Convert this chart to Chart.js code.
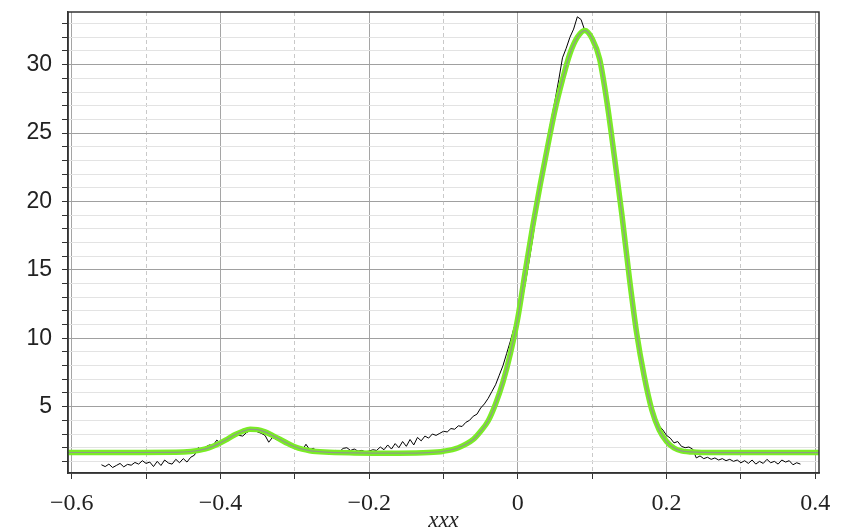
<!DOCTYPE html>
<html lang="en">
<head>
    <meta charset="UTF-8">
    <title>Fit</title>
    <script src="https://cdn.jsdelivr.net/npm/chart.js"></script>
    <style>
        body { margin: 0; background: #fff; }
        .chart-container { position: relative; width: 844px; height: 532px; }
    </style>
</head>
<body>
    <div class="chart-container">
        <canvas id="fitChart"></canvas>
    </div>

    <script>
        // measured trace: first x and sampling step, then the y readings
        const traceStart = -0.56;
        const traceStep = 0.005;
        const traceY = [
            0.75, 0.62, 0.80, 0.55, 0.70, 0.85, 0.60, 0.78, 0.72, 0.92,
            0.80, 1.05, 0.85, 0.95, 0.62, 1.00, 0.70, 1.10, 0.88, 0.80,
            1.15, 0.90, 1.20, 0.95, 1.30, 1.45,
            2.0, 1.85, 2.05, 2.2, 2.15, 2.55, 2.35, 2.45, 2.6, 2.75,
            3.05, 2.9, 2.85, 3.1, 3.25, 3.3, 3.15, 3.05, 2.9, 2.4,
            2.75, 2.6, 2.5, 2.35, 2.2, 2.05, 1.95, 1.9, 1.8, 2.25,
            1.85, 1.95, 1.75, 1.8, 1.7, 1.75, 1.7, 1.8, 1.7, 1.95,
            2.0, 1.8, 1.9, 1.75, 1.8, 1.7, 1.75, 1.85, 1.8, 2.05,
            1.85, 2.2, 1.9, 2.3, 2.0, 2.45, 2.1, 2.6, 2.2, 2.75,
            2.5, 2.85, 2.7, 3.0, 2.9, 3.05, 3.2, 3.15, 3.4, 3.35,
            3.6, 3.55, 3.85, 4.0, 4.3, 4.45, 4.9, 5.2, 5.6, 6.1,
            6.6, 7.3, 8.0, 8.9, 9.8, 10.8,
            11.3, 12.6, 14.0, 15.6, 17.3, 19.2, 21.0, 23.0, 24.6, 26.0,
            27.4, 28.9, 30.5, 31.2, 32.0, 32.6, 33.5, 33.3, 32.5, 32.2,
            31.8, 31.1, 30.3, 28.9, 27.0, 25.1, 23.1, 21.0, 19.0, 16.6,
            14.3, 12.2, 10.3, 8.7, 7.4, 6.0, 4.9, 4.3, 3.6, 3.3,
            2.9, 2.7, 2.35, 2.45, 2.1, 2.0, 2.05, 1.9, 1.25, 1.4,
            1.2, 1.3, 1.15, 1.25, 1.1, 1.2, 1.05, 1.15, 1.0, 1.1,
            0.9, 1.05, 0.85, 1.1, 0.8, 1.0, 0.85, 1.15, 0.9, 1.0,
            0.8, 1.1, 0.95, 1.05, 0.75, 0.9, 0.8
        ];

        // fitted curve
        const fitX = [
            -0.605, -0.52, -0.46, -0.44, -0.42, -0.41, -0.40, -0.39, -0.38, -0.37,
            -0.36, -0.35, -0.34, -0.33, -0.32, -0.31, -0.30, -0.29, -0.28, -0.26,
            -0.22, -0.16, -0.12, -0.10, -0.08, -0.06, -0.05, -0.04, -0.03, -0.02,
            -0.01, 0, 0.01, 0.02, 0.03, 0.04, 0.05, 0.06, 0.07, 0.08,
            0.09, 0.10, 0.11, 0.12, 0.13, 0.14, 0.15, 0.16, 0.17, 0.18,
            0.19, 0.20, 0.21, 0.22, 0.24, 0.28, 0.405
        ];
        const fitY = [
            1.65, 1.65, 1.66, 1.72, 1.91, 2.10, 2.35, 2.65, 2.96, 3.20,
            3.34, 3.32, 3.16, 2.90, 2.62, 2.32, 2.07, 1.89, 1.78, 1.68,
            1.62, 1.60, 1.64, 1.74, 2.0, 2.6, 3.2, 3.95, 5.2, 6.8,
            8.9, 11.5, 14.9, 18.2, 21.2, 24.0, 26.7, 28.9, 30.8, 32.0,
            32.5, 31.9, 30.4, 27.2, 23.2, 19.0, 14.4, 10.3, 7.2, 4.8,
            3.3, 2.45, 1.98, 1.77, 1.67, 1.64, 1.64
        ];

        const xTickMarks = [-0.6, -0.5, -0.4, -0.3, -0.2, -0.1, 0, 0.1, 0.2, 0.3, 0.4];
        const xLabelTicks = [-0.6, -0.4, -0.2, 0, 0.2, 0.4];
        const xMinorLines = [-0.5, -0.3, -0.1, 0.1, 0.3];
        const yTickMarks = [1, 2, 3, 4, 5, 6, 7, 8, 9, 10, 11, 12, 13, 14, 15, 16, 17,
            18, 19, 20, 21, 22, 23, 24, 25, 26, 27, 28, 29, 30, 31, 32, 33];
        const yLabelTicks = [5, 10, 15, 20, 25, 30];
        const xTitle = 'xxx';

        const near = (list, v) => list.some(t => Math.abs(t - v) < 1e-9);
        const fmtX = v => Math.abs(v) < 1e-9 ? '0' : (v < 0 ? '\u2212' : '') + Math.abs(v).toFixed(1);

        const tracePoints = traceY.map((y, i) => ({ x: traceStart + i * traceStep, y: y }));
        const fitPoints = fitX.map((x, i) => ({ x: x, y: fitY[i] }));

        const frame = {
            id: 'frame',
            afterDatasetsDraw(chart) {
                const a = chart.chartArea;
                const ctx = chart.ctx;
                ctx.save();
                ctx.strokeStyle = '#333';
                ctx.lineWidth = 1.5;
                ctx.strokeRect(a.left, a.top, a.right - a.left, a.bottom - a.top);
                ctx.restore();
            }
        };

        const ctx = document.getElementById('fitChart').getContext('2d');
        new Chart(ctx, {
            type: 'scatter',
            data: {
                datasets: [
                    {
                        label: 'fit core',
                        data: fitPoints,
                        showLine: true,
                        borderColor: '#8f9a88',
                        borderWidth: 1.2,
                        pointRadius: 0,
                        cubicInterpolationMode: 'monotone'
                    },
                    {
                        label: 'fit',
                        data: fitPoints,
                        showLine: true,
                        borderColor: '#7aec26',
                        borderWidth: 5.5,
                        pointRadius: 0,
                        cubicInterpolationMode: 'monotone'
                    },
                    {
                        label: 'data',
                        data: tracePoints,
                        showLine: true,
                        borderColor: '#000',
                        borderWidth: 1,
                        pointRadius: 0,
                        tension: 0
                    }
                ]
            },
            options: {
                responsive: true,
                maintainAspectRatio: false,
                animation: false,
                layout: { padding: { top: 12, right: 25, left: 0, bottom: 0 } },
                plugins: {
                    legend: { display: false },
                    tooltip: { enabled: false }
                },
                scales: {
                    x: {
                        type: 'linear',
                        position: 'bottom',
                        min: -0.605,
                        max: 0.405,
                        afterBuildTicks: s => { s.ticks = xTickMarks.map(v => ({ value: v })); },
                        afterFit: s => { s.height = 59; s.paddingLeft = 0; s.paddingRight = 0; },
                        ticks: {
                            autoSkip: false,
                            maxRotation: 0,
                            padding: 10,
                            color: '#222',
                            font: { family: 'Liberation Serif', size: 24 },
                            callback: v => near(xLabelTicks, v) ? fmtX(v) : ''
                        },
                        grid: {
                            color: c => near(xLabelTicks, c.tick.value) ? '#a5a5a5' : 'rgba(0,0,0,0)',
                            tickColor: '#333',
                            tickLength: 6
                        },
                        border: { color: '#333', width: 1.5 },
                        title: {
                            display: true,
                            text: xTitle,
                            color: '#222',
                            padding: 0,
                            font: { family: 'Liberation Serif', size: 23, style: 'italic', lineHeight: 1 }
                        }
                    },
                    xMinor: {
                        type: 'linear',
                        position: 'bottom',
                        min: -0.605,
                        max: 0.405,
                        afterBuildTicks: s => { s.ticks = xMinorLines.map(v => ({ value: v })); },
                        afterFit: s => { s.height = 0; s.paddingLeft = 0; s.paddingRight = 0; },
                        ticks: { display: false },
                        grid: { color: '#c9c9c9', drawTicks: false },
                        border: { display: false, dash: [4, 3] }
                    },
                    y: {
                        type: 'linear',
                        min: 0.15,
                        max: 33.85,
                        afterBuildTicks: s => { s.ticks = yTickMarks.map(v => ({ value: v })); },
                        afterFit: s => { s.width = 68; s.paddingTop = 0; s.paddingBottom = 0; },
                        ticks: {
                            autoSkip: false,
                            padding: 10,
                            color: '#222',
                            font: { family: 'Liberation Sans', size: 23 },
                            callback: v => near(yLabelTicks, v) ? String(v) : ''
                        },
                        grid: {
                            color: c => near(yLabelTicks, c.tick.value) ? '#a0a0a0' : '#e3e3e3',
                            tickColor: '#333',
                            tickLength: 6
                        },
                        border: { color: '#333', width: 1.5 }
                    }
                }
            },
            plugins: [frame]
        });
    </script>
</body>
</html>
